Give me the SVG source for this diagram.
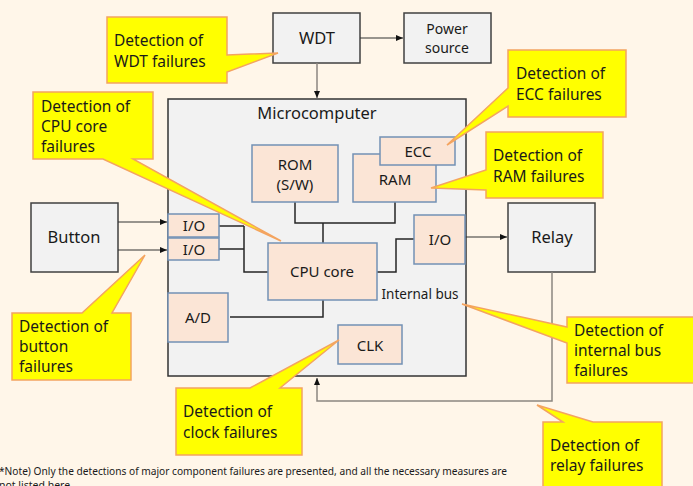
<svg xmlns="http://www.w3.org/2000/svg" width="693" height="486" viewBox="0 0 693 486">
<defs>
<style>
text{font-family:"Noto Sans","DejaVu Sans",sans-serif;fill:#1a1a1a}
.gbox{fill:#F2F2F2;stroke:#404040;stroke-width:1.5}
.mc{fill:#F2F2F2;stroke:#333;stroke-width:1.5}
.cbox{fill:#FBE5D6;stroke:#7391B5;stroke-width:1.5}
.call{fill:#FFFF00;stroke:#F4A460;stroke-width:1.5;stroke-linejoin:miter}
.t16{font-size:16.5px;text-anchor:middle}
.t14{font-size:15px;text-anchor:middle}
.ct{font-size:15.5px}
.ln{fill:none;stroke:#262626;stroke-width:1.5}
.ar{fill:none;stroke:#333;stroke-width:1.2}
.fb{fill:none;stroke:#8C8680;stroke-width:1.5}
</style>
<marker id="ah" markerWidth="8" markerHeight="8" refX="7" refY="4" orient="auto" markerUnits="userSpaceOnUse">
<path d="M0,1 L7,4 L0,7 Z" fill="#111"/>
</marker>
</defs>
<rect width="693" height="486" fill="#FFF6E9"/>

<g id="microcomputer">
<rect class="mc" x="168" y="99" width="298" height="277"/>
<text class="t16" x="317" y="119">Microcomputer</text>
<text x="420" y="299" style="font-size:13.5px;text-anchor:middle">Internal bus</text>
</g>

<g id="wdt"><rect class="gbox" x="273" y="13" width="87" height="50"/><text class="t16" x="317" y="44">WDT</text></g>
<g id="power"><rect class="gbox" x="404" y="13" width="87" height="50"/><text style="font-size:14px;text-anchor:middle" x="447" y="34">Power</text><text style="font-size:14px;text-anchor:middle" x="447" y="53">source</text></g>
<g id="button"><rect class="gbox" x="31" y="203" width="87" height="69"/><text class="t16" x="74" y="243">Button</text></g>
<g id="relay"><rect class="gbox" x="508" y="203" width="87" height="69"/><text class="t16" x="552" y="243">Relay</text></g>

<g id="connectors">
<line class="ar" x1="360" y1="38" x2="403" y2="38" marker-end="url(#ah)"/>
<line class="fb" x1="317" y1="63" x2="317" y2="98" marker-end="url(#ah)"/>
<line class="ar" x1="118" y1="222" x2="167" y2="222" marker-end="url(#ah)"/>
<line class="ar" x1="118" y1="250" x2="167" y2="250" marker-end="url(#ah)"/>
<line class="ar" x1="465" y1="237" x2="507" y2="237" marker-end="url(#ah)"/>
<path class="fb" d="M552,272 V401 H317 V378" marker-end="url(#ah)"/>
<path class="ln" d="M295,202 V223 H395 V202 M323,223 V243"/>
<path class="ln" d="M219,226 H244 M219,249 H244 M244,226 V272 H268"/>
<path class="ln" d="M377,272 H396 V239 H414"/>
<path class="ln" d="M230,317 H323 V300"/>
</g>

<g id="rom"><rect class="cbox" x="252" y="145" width="86" height="57"/><text class="t14" x="295" y="170">ROM</text><text class="t14" x="295" y="190">(S/W)</text></g>
<g id="ram"><rect class="cbox" x="353" y="154" width="83" height="48"/><text class="t14" x="395" y="185">RAM</text></g>
<g id="ecc"><rect class="cbox" x="380" y="137" width="75" height="28"/><text class="t14" x="418" y="157">ECC</text></g>
<g id="io1"><rect class="cbox" x="168" y="214" width="51" height="23"/><text class="t14" x="194" y="231">I/O</text></g>
<g id="io2"><rect class="cbox" x="168" y="238" width="51" height="22"/><text class="t14" x="194" y="255">I/O</text></g>
<g id="cpu"><rect class="cbox" x="268" y="243" width="109" height="57"/><text class="t14" x="322" y="277">CPU core</text></g>
<g id="io3"><rect class="cbox" x="414" y="215" width="51" height="49"/><text class="t14" x="440" y="245">I/O</text></g>
<g id="ad"><rect class="cbox" x="168" y="293" width="60" height="49"/><text class="t14" x="198" y="323">A/D</text></g>
<g id="clk"><rect class="cbox" x="338" y="325" width="64" height="39"/><text class="t14" x="370" y="351">CLK</text></g>

<g id="callout-wdt"><path class="call" d="M107,17 H227 V55 L278,53 L227,72 V83 H107 Z"/><text class="ct" x="114" y="46">Detection of</text><text class="ct" x="114" y="67">WDT failures</text></g>
<g id="callout-cpu"><path class="call" d="M33,92 H153 V159 H133 L281,241 L103,159 H33 Z"/><text class="ct" x="41" y="112">Detection of</text><text class="ct" x="41" y="132">CPU core</text><text class="ct" x="41" y="152">failures</text></g>
<g id="callout-ecc"><path class="call" d="M508,50 H626 V117 H508 V106 L447,145 L508,88 Z"/><text class="ct" x="516" y="79">Detection of</text><text class="ct" x="516" y="100">ECC failures</text></g>
<g id="callout-ram"><path class="call" d="M486,132 H603 V198 H486 V190 L431,188 L486,170 Z"/><text class="ct" x="493" y="161">Detection of</text><text class="ct" x="493" y="182">RAM failures</text></g>
<g id="callout-bus"><path class="call" d="M567,317 H696 V383 H567 V343 L462,304 L567,327 Z"/><text class="ct" x="574" y="336">Detection of</text><text class="ct" x="574" y="356">internal bus</text><text class="ct" x="574" y="376">failures</text></g>
<g id="callout-relay"><path class="call" d="M543,422 H563 L537,405 L593,422 H662 V492 H543 Z"/><text class="ct" x="550" y="451">Detection of</text><text class="ct" x="550" y="471">relay failures</text></g>
<g id="callout-button"><path class="call" d="M12,313 H82 L145,255 L112,313 H131 V380 H12 Z"/><text class="ct" x="19" y="332">Detection of</text><text class="ct" x="19" y="352">button</text><text class="ct" x="19" y="372">failures</text></g>
<g id="callout-clock"><path class="call" d="M176,388 H250 L339,340 L280,388 H302 V455 H176 Z"/><text class="ct" x="183" y="417">Detection of</text><text class="ct" x="183" y="438">clock failures</text></g>

<g id="note">
<text x="-1" y="475" style="font-size:10.5px" textLength="508" lengthAdjust="spacingAndGlyphs">*Note) Only the detections of major component failures are presented, and all the necessary measures are</text>
<text x="-1" y="489" style="font-size:10.5px">not listed here.</text>
</g>
</svg>
